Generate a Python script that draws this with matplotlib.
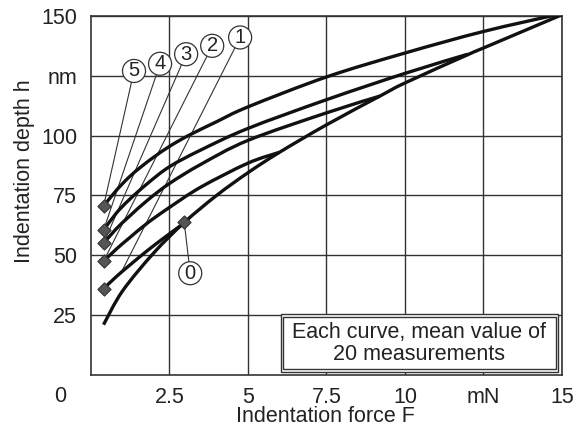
import matplotlib.pyplot as plt
from matplotlib.patches import Rectangle, PathPatch
from matplotlib.path import Path

plt.rcParams['font.family'] = ['Liberation Sans', 'DejaVu Sans']

##データ
#包絡線（曲線0）
x0 = [0.4, 1.0, 2.0, 2.97, 4.0, 5.0, 6.0, 7.5, 9.2, 10.0, 12.0, 12.5, 15.0]
y0 = [21, 35, 51, 63.7, 75, 84.5, 93, 104.5, 116.5, 122, 133.8, 136.6, 150.5]

#曲線1〜5
x1 = [0.4, 0.8, 1.2, 1.8, 2.4, 2.97]
y1 = [36, 41, 45.5, 52, 58, 63.5]
x2 = [0.4, 0.8, 1.2, 1.8, 2.5, 3.5, 5.0, 6.0]
y2 = [47.5, 52.5, 57, 63.5, 70, 78.5, 88.5, 93]
x3 = [0.4, 0.8, 1.2, 1.8, 2.5, 3.5, 5.0, 7.5, 9.2]
y3 = [55, 61, 66, 73, 80, 88, 98, 109.5, 116.5]
x4 = [0.4, 0.8, 1.2, 1.8, 2.5, 3.5, 5.0, 7.5, 10.0, 12.0]
y4 = [60.5, 67.5, 73, 80, 87, 94, 103, 115, 126, 134]
x5 = [0.4, 0.8, 1.2, 1.6, 2.0, 2.5, 3.1, 4.0, 5.0, 7.5, 10.0, 12.5, 15.0]
y5 = [70.5, 77, 82.5, 87, 91, 95.5, 100, 105.8, 112, 124.5, 134.5, 143.5, 151]

#マーカー位置
marker_x = [0.4, 0.4, 0.4, 0.4, 0.4, 2.97]
marker_y = [70.5, 60.5, 55, 47.5, 36, 63.7]

#番号ラベルと引出線の先
label_names = ['5', '4', '3', '2', '1', '0']
label_x = [1.37, 2.2, 3.03, 3.86, 4.75, 3.16]
label_y = [127, 130, 134, 137.5, 141, 42.5]
leader_x = [0.4, 0.4, 0.4, 0.4, 0.95, 2.97]
leader_y = [70.5, 60.5, 55, 47.5, 42.5, 63.7]

#目盛り
xticks = [2.5, 5, 7.5, 10, 12.5, 15]
xticklabels = ['2.5', '5', '7.5', '10', 'mN', '15']
yticks = [25, 50, 75, 100, 125, 150]
yticklabels = ['25', '50', '75', '100', 'nm', '150']


#読み取った点を滑らかなベジェ曲線でつなぐ
def smooth_path(xs, ys):
    pts = list(zip(xs, ys))
    verts = [pts[0]]
    codes = [Path.MOVETO]
    n = len(pts)
    for i in range(n - 1):
        p0 = pts[max(i - 1, 0)]
        p1 = pts[i]
        p2 = pts[i + 1]
        p3 = pts[min(i + 2, n - 1)]
        c1 = (p1[0] + (p2[0] - p0[0]) / 6, p1[1] + (p2[1] - p0[1]) / 6)
        c2 = (p2[0] - (p3[0] - p1[0]) / 6, p2[1] - (p3[1] - p1[1]) / 6)
        verts += [c1, c2, p2]
        codes += [Path.CURVE4] * 3
    return Path(verts, codes)


##描画
fig = plt.figure(figsize=(5.77, 4.30), dpi=100)
ax = fig.add_axes([0.1577, 0.128, 0.8163, 0.835])

ax.set_xlim(0, 15)
ax.set_ylim(0, 150)
ax.set_xticks(xticks)
ax.set_xticklabels(xticklabels)
ax.set_yticks(yticks)
ax.set_yticklabels(yticklabels)
ax.tick_params(length=0, labelsize=15.5, colors='#222222')
ax.tick_params(axis='x', pad=9)
ax.tick_params(axis='y', pad=10)
ax.grid(True, color='#333333', lw=1.0)
for s in ax.spines.values():
    s.set_color('#333333')
    s.set_linewidth(1.2)

#原点の0
ax.text(-0.066, -0.061, '0', transform=ax.transAxes, ha='center', va='center',
        fontsize=15.5, color='#222222')

#軸ラベル
fig.text(325 / 577, 1 - 417 / 430, 'Indentation force F', ha='center', va='center',
         fontsize=15.5, color='#222222')
fig.text(25 / 577, 1 - 171 / 430, 'Indentation depth h', ha='center', va='center',
         rotation=90, fontsize=15.5, color='#222222')

#引出線
for lx, ly, tx, ty in zip(label_x, label_y, leader_x, leader_y):
    ax.plot([lx, tx], [ly, ty], color='#333333', lw=0.8, zorder=3)

#曲線
for xs, ys in [(x0, y0), (x1, y1), (x2, y2), (x3, y3), (x4, y4), (x5, y5)]:
    ax.add_patch(PathPatch(smooth_path(xs, ys), fc='none', ec='#111111', lw=2.4,
                           capstyle='butt', zorder=4))

ax.scatter(marker_x, marker_y, marker='D', s=45, color='#555555',
           edgecolors='#333333', linewidths=0.8, zorder=5)

#番号（丸囲み）
for name, lx, ly in zip(label_names, label_x, label_y):
    ax.text(lx, ly, name, ha='center', va='center', fontsize=14.5, color='#222222',
            bbox=dict(boxstyle='circle,pad=0.1', fc='white', ec='#333333', lw=0.9),
            zorder=6)

#注記の二重枠
ax.add_patch(Rectangle((0.403, 0.0084), 0.5885, 0.16, transform=ax.transAxes,
                       fc='white', ec='#333333', lw=1.0, zorder=6))
ax.add_patch(Rectangle((0.408, 0.0155), 0.5785, 0.146, transform=ax.transAxes,
                       fc='none', ec='#333333', lw=1.0, zorder=7))
ax.text(0.697, 0.088, 'Each curve, mean value of\n20 measurements', transform=ax.transAxes,
        ha='center', va='center', fontsize=15.5, color='#222222', linespacing=1.05, zorder=8)

fig.savefig('out.png', dpi=100)
